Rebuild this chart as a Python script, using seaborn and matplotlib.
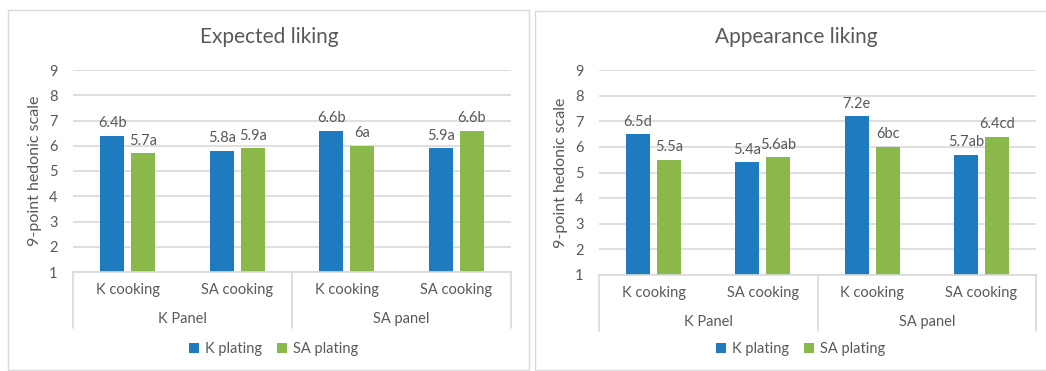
import matplotlib
matplotlib.use("Agg")
import matplotlib.pyplot as plt
from matplotlib.patches import Rectangle, Patch
from matplotlib.lines import Line2D
import seaborn as sns
import pandas as pd

# ---- data -------------------------------------------------------------
cooking = ["K cooking", "SA cooking", "K cooking", "SA cooking"]
panels = ["K Panel", "SA panel"]
plating = ["K plating", "SA plating"]

expected_k = [6.4, 5.8, 6.6, 5.9]
expected_sa = [5.7, 5.9, 6.0, 6.6]
expected_k_letters = ["b", "a", "b", "a"]
expected_sa_letters = ["a", "a", "a", "b"]

appearance_k = [6.5, 5.4, 7.2, 5.7]
appearance_sa = [5.5, 5.6, 6.0, 6.4]
appearance_k_letters = ["d", "a", "e", "ab"]
appearance_sa_letters = ["a", "ab", "bc", "cd"]

yticks = [1, 2, 3, 4, 5, 6, 7, 8, 9]

# ---- style ------------------------------------------------------------
sns.set_theme(style="white")
plt.rcParams["font.family"] = ["Lato", "DejaVu Sans"]
TXT = "#595959"
GRID = "#d9d9d9"
BLUE = "#1f7bbf"
GREEN = "#8bb84a"
palette = {"K plating": BLUE, "SA plating": GREEN}

W, H = 1046, 371
fig = plt.figure(figsize=(W / 100, H / 100), dpi=100)


def frac_x(px):
    return px / W


def frac_y(py):
    return 1 - py / H


def make_frame(k_vals, sa_vals):
    slots = [f"{panels[i // 2]}|{c}" for i, c in enumerate(cooking)]
    rows = []
    for s, v in zip(slots, k_vals):
        rows.append({"slot": s, "plating": plating[0], "value": v})
    for s, v in zip(slots, sa_vals):
        rows.append({"slot": s, "plating": plating[1], "value": v})
    return pd.DataFrame(rows), slots


def draw_panel(box, plot, title, k_vals, sa_vals, k_let, sa_let):
    # outer chart frame
    bx0, by0, bx1, by1 = box
    fig.patches.append(Rectangle((frac_x(bx0), frac_y(by1)),
                                 frac_x(bx1 - bx0), (by1 - by0) / H,
                                 transform=fig.transFigure, fill=False,
                                 edgecolor="#d9d9d9", linewidth=1.0))
    px0, py_top, px1, py_bot = plot
    ax = fig.add_axes([frac_x(px0), frac_y(py_bot),
                       frac_x(px1 - px0), (py_bot - py_top) / H])
    df, slots = make_frame(k_vals, sa_vals)
    sns.barplot(data=df, x="slot", y="value", hue="plating", order=slots,
                hue_order=plating, palette=palette, saturation=1,
                width=0.566, gap=0.226, linewidth=0, errorbar=None,
                legend=False, ax=ax)
    ax.set_ylim(1, 9)
    ax.set_xlim(-0.5, 3.5)
    ax.set_yticks(yticks)
    ax.yaxis.grid(True, color=GRID, linewidth=1.2)
    ax.set_axisbelow(True)
    for side in ("left", "right", "top"):
        ax.spines[side].set_visible(False)
    ax.spines["bottom"].set_color(GRID)
    ax.spines["bottom"].set_linewidth(1.2)
    ax.tick_params(axis="y", length=0, pad=11, labelsize=10.5, labelcolor=TXT)
    ax.set_xticks([])
    ax.set_xlabel("")
    ax.set_ylabel("")

    # value labels with significance letters
    for cont, vals, lets in zip(ax.containers, (k_vals, sa_vals), (k_let, sa_let)):
        labels = [f"{v:g}{l}" for v, l in zip(vals, lets)]
        ax.bar_label(cont, labels=labels, padding=4, fontsize=10.5, color=TXT)

    # two-level category axis
    ax_h = py_bot - py_top
    for i, c in enumerate(cooking):
        ax.annotate(c, xy=(i, 0), xycoords=("data", "axes fraction"),
                    xytext=(0, -18), textcoords="offset pixels",
                    ha="center", va="center", fontsize=10.5, color=TXT)
    for j, p in enumerate(panels):
        ax.annotate(p, xy=(0.5 + 2 * j, 0), xycoords=("data", "axes fraction"),
                    xytext=(0, -47), textcoords="offset pixels",
                    ha="center", va="center", fontsize=10.5, color=TXT)
    for xs in (-0.5, 1.5, 3.5):
        ax.add_line(Line2D([xs, xs], [0, -56 / ax_h], color=GRID, linewidth=1.2,
                           transform=ax.get_xaxis_transform(), clip_on=False))

    # title and y label
    cx = (bx0 + bx1) / 2 + 1
    fig.text(frac_x(cx), frac_y(37), title, ha="center",
             va="center", fontsize=15, color=TXT)
    fig.text(frac_x(px0 - 38), frac_y((py_top + py_bot) / 2), "9-point hedonic scale",
             rotation=90, ha="center", va="center", fontsize=11.5, color=TXT)

    # legend centred on the chart frame, below the category axis
    handles = [Patch(facecolor=palette[p], edgecolor="none", label=p) for p in plating]
    fig.legend(handles=handles, loc="center", ncol=2, frameon=False,
               bbox_to_anchor=(frac_x(cx + 4), frac_y(349)), fontsize=10.5,
               labelcolor=TXT, handlelength=0.7, handleheight=0.7,
               handletextpad=0.4, columnspacing=1.0)
    return ax


draw_panel((8, 10, 529, 370), (73, 70, 511, 272), "Expected liking",
           expected_k, expected_sa, expected_k_letters, expected_sa_letters)
draw_panel((535, 11, 1056, 370), (599, 70, 1036, 275), "Appearance liking",
           appearance_k, appearance_sa, appearance_k_letters, appearance_sa_letters)

fig.savefig("out.png", dpi=100, facecolor="white")
